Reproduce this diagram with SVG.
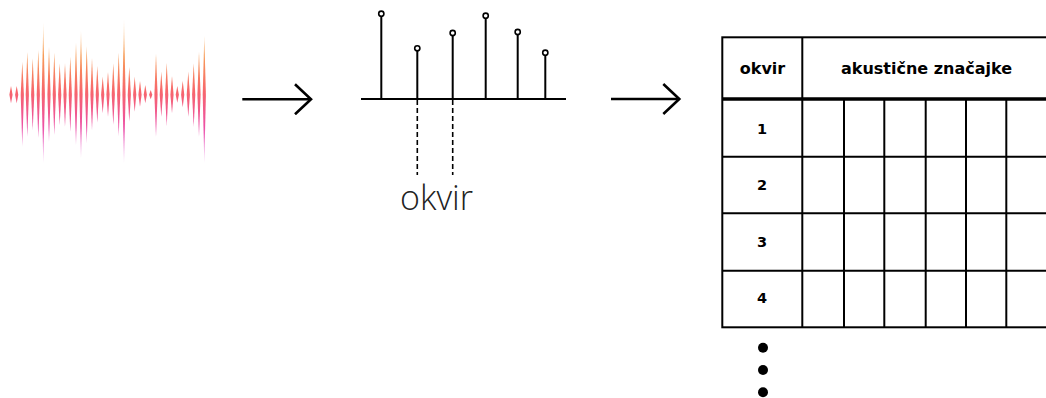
<svg xmlns="http://www.w3.org/2000/svg" width="1046" height="398" viewBox="0 0 1046 398">
<defs>
<linearGradient id="wg" gradientUnits="userSpaceOnUse" x1="0" y1="19" x2="0" y2="164">
<stop offset="0" stop-color="#f9c27e" stop-opacity="0.35"/>
<stop offset="0.25" stop-color="#f79c56"/>
<stop offset="0.5" stop-color="#f7666c"/>
<stop offset="0.75" stop-color="#ec50a6"/>
<stop offset="1" stop-color="#e458d8" stop-opacity="0.35"/>
</linearGradient>
<marker id="ah" viewBox="0 0 20 32" refX="17" refY="16" markerWidth="20" markerHeight="32" markerUnits="userSpaceOnUse" orient="auto">
<path d="M1,1 L17,16 L1,31" fill="none" stroke="#000" stroke-width="2.6"/>
</marker>
<style>
.bar{fill:url(#wg)}
.stem{stroke:#000;stroke-width:2;fill:none}
.tip{fill:#fff;stroke:#000;stroke-width:1.6}
.dash{stroke:#000;stroke-width:1.6;stroke-dasharray:5 3;fill:none}
.arrow{stroke:#000;stroke-width:2.4;fill:none}
.grid{stroke:#000;stroke-width:2;fill:none}
.thick{stroke:#000;stroke-width:3.5}
.hd{font-family:"DejaVu Sans",sans-serif;font-weight:bold;font-size:16px;fill:#000;text-anchor:middle}
.num{font-family:"DejaVu Sans",sans-serif;font-weight:bold;font-size:14.5px;fill:#000;text-anchor:middle}
.lbl{font-family:"Open Sans",sans-serif;font-weight:300;font-size:34px;fill:#222}
</style>
</defs>
<rect width="1046" height="398" fill="#fff"/>
<g id="waveform">
<path class="bar" d="M11,86L12.6,94.7L11,103.3L9.4,94.7Z"/>
<path class="bar" d="M16.7,86L18.3,94.7L16.7,103.3L15.1,94.7Z"/>
<path class="bar" d="M22.3,61.7L23.9,94.7L22.3,146.7L20.7,94.7Z"/>
<path class="bar" d="M27.3,51.7L28.9,94.7L27.3,136.7L25.7,94.7Z"/>
<path class="bar" d="M32.7,58.3L34.3,94.7L32.7,130L31.1,94.7Z"/>
<path class="bar" d="M38.3,50L39.9,94.7L38.3,138.3L36.7,94.7Z"/>
<path class="bar" d="M43.3,22.7L44.9,94.7L43.3,163.3L41.7,94.7Z"/>
<path class="bar" d="M49,46.7L50.6,94.7L49,141.7L47.4,94.7Z"/>
<path class="bar" d="M54.3,52.7L55.9,94.7L54.3,135L52.7,94.7Z"/>
<path class="bar" d="M59.7,63.3L61.3,94.7L59.7,125L58.1,94.7Z"/>
<path class="bar" d="M65,63.3L66.6,94.7L65,126.7L63.4,94.7Z"/>
<path class="bar" d="M70.3,56.7L71.9,94.7L70.3,131.7L68.7,94.7Z"/>
<path class="bar" d="M76,42.7L77.6,94.7L76,145L74.4,94.7Z"/>
<path class="bar" d="M81,30.7L82.6,94.7L81,158.3L79.4,94.7Z"/>
<path class="bar" d="M86.7,46L88.3,94.7L86.7,143.3L85.1,94.7Z"/>
<path class="bar" d="M92,58.3L93.6,94.7L92,130L90.4,94.7Z"/>
<path class="bar" d="M97.3,66L98.9,94.7L97.3,122.7L95.7,94.7Z"/>
<path class="bar" d="M102.7,76.7L104.3,94.7L102.7,113.3L101.1,94.7Z"/>
<path class="bar" d="M108,71.7L109.6,94.7L108,116.7L106.4,94.7Z"/>
<path class="bar" d="M113.3,63.3L114.9,94.7L113.3,125L111.7,94.7Z"/>
<path class="bar" d="M118.7,52.7L120.3,94.7L118.7,136L117.1,94.7Z"/>
<path class="bar" d="M124,19.3L125.6,94.7L124,163.3L122.4,94.7Z"/>
<path class="bar" d="M129.3,66.7L130.9,94.7L129.3,121.7L127.7,94.7Z"/>
<path class="bar" d="M134.7,76.7L136.3,94.7L134.7,111.7L133.1,94.7Z"/>
<path class="bar" d="M140,80.7L141.6,94.7L140,106.7L138.4,94.7Z"/>
<path class="bar" d="M145.3,85L146.9,94.7L145.3,103.3L143.7,94.7Z"/>
<path class="bar" d="M150.7,90L152.3,94.7L150.7,99.3L149.1,94.7Z"/>
<path class="bar" d="M156,54L157.6,94.7L156,136.7L154.4,94.7Z"/>
<path class="bar" d="M161.3,71.7L162.9,94.7L161.3,116.7L159.7,94.7Z"/>
<path class="bar" d="M166.7,62.7L168.3,94.7L166.7,126L165.1,94.7Z"/>
<path class="bar" d="M172,76L173.6,94.7L172,113.3L170.4,94.7Z"/>
<path class="bar" d="M177.3,86L178.9,94.7L177.3,102.7L175.7,94.7Z"/>
<path class="bar" d="M182.7,80.7L184.3,94.7L182.7,107.3L181.1,94.7Z"/>
<path class="bar" d="M188.3,71.7L189.9,94.7L188.3,116.7L186.7,94.7Z"/>
<path class="bar" d="M193.7,63.3L195.3,94.7L193.7,126.7L192.1,94.7Z"/>
<path class="bar" d="M199,51.7L200.6,94.7L199,136.7L197.4,94.7Z"/>
<path class="bar" d="M204.3,36L205.9,94.7L204.3,163.3L202.7,94.7Z"/>
</g>
<g id="samples">
<line class="stem" x1="361" y1="99" x2="566" y2="99"/>
<line class="stem" x1="381.3" y1="99" x2="381.3" y2="16"/>
<line class="stem" x1="417.3" y1="99" x2="417.3" y2="50.7"/>
<line class="stem" x1="452.7" y1="99" x2="452.7" y2="35.4"/>
<line class="stem" x1="485.7" y1="99" x2="485.7" y2="18.1"/>
<line class="stem" x1="517.7" y1="99" x2="517.7" y2="34.4"/>
<line class="stem" x1="545.3" y1="99" x2="545.3" y2="55.1"/>
<circle class="tip" cx="381.3" cy="13.7" r="2.6"/>
<circle class="tip" cx="417.3" cy="48.3" r="2.6"/>
<circle class="tip" cx="452.7" cy="33" r="2.6"/>
<circle class="tip" cx="485.7" cy="15.7" r="2.6"/>
<circle class="tip" cx="517.7" cy="32" r="2.6"/>
<circle class="tip" cx="545.3" cy="52.7" r="2.6"/>
<line class="dash" x1="417.3" y1="100" x2="417.3" y2="175"/>
<line class="dash" x1="452.7" y1="100" x2="452.7" y2="175"/>
<text class="lbl" x="400" y="210">okvir</text>
</g>
<g id="table">
<rect class="grid" x="722.3" y="37.3" width="400" height="290"/>
<line class="grid" x1="802.3" y1="37.3" x2="802.3" y2="327.3"/>
<line class="thick" x1="722.3" y1="99" x2="1046" y2="99"/>
<line class="grid" x1="722.3" y1="156.7" x2="1046" y2="156.7"/>
<line class="grid" x1="722.3" y1="213.3" x2="1046" y2="213.3"/>
<line class="grid" x1="722.3" y1="270.7" x2="1046" y2="270.7"/>
<line class="grid" x1="844" y1="99" x2="844" y2="327.3"/>
<line class="grid" x1="884.3" y1="99" x2="884.3" y2="327.3"/>
<line class="grid" x1="925.7" y1="99" x2="925.7" y2="327.3"/>
<line class="grid" x1="966" y1="99" x2="966" y2="327.3"/>
<line class="grid" x1="1006.3" y1="99" x2="1006.3" y2="327.3"/>
<text class="hd" x="762.5" y="73.5">okvir</text>
<text class="hd" x="926.5" y="73.5">akustične značajke</text>
<text class="num" x="762" y="133.5">1</text>
<text class="num" x="762" y="190">2</text>
<text class="num" x="762" y="246.5">3</text>
<text class="num" x="762" y="303">4</text>
<circle cx="763" cy="347.7" r="5"/>
<circle cx="763" cy="370" r="5"/>
<circle cx="763" cy="392.3" r="5"/>
</g>
<g id="connectors">
<line class="arrow" x1="242.3" y1="99.3" x2="311" y2="99.3" marker-end="url(#ah)"/>
<line class="arrow" x1="611" y1="99" x2="679.3" y2="99" marker-end="url(#ah)"/>
</g>
</svg>
